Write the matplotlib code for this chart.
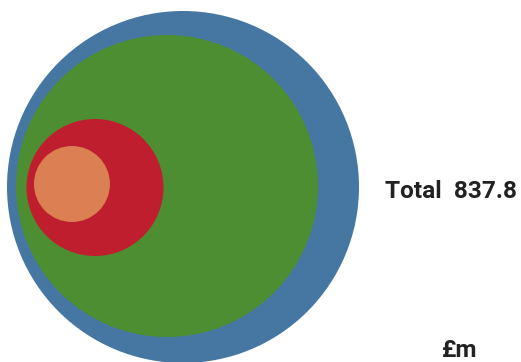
import numpy as np
import matplotlib
matplotlib.use("Agg")
import matplotlib.pyplot as plt
from matplotlib.patches import Circle

# data (£m), biggest first
labels = ["Total", "Part A", "Part B", "Part C"]
values = [837.8, 616.7, 126.9, 39.0]
colors = ["#4577a2", "#4e8e32", "#be1e2d", "#db8052"]

total_label = "Total  837.8"
unit_label = "£m"

# layout, in pixels
W, H = 521, 362
r_max = 176.0
lefts = [7, 16, 26.5, 34]
cys = [187, 186, 187.5, 184]

plt.rcParams["font.family"] = ["Roboto", "DejaVu Sans"]

fig = plt.figure(figsize=(W / 100, H / 100), dpi=100)
ax = fig.add_axes([0, 0, 1, 1])
ax.set_xlim(0, W)
ax.set_ylim(H, 0)
ax.set_aspect("equal")
ax.axis("off")

for v, c, left, cy in zip(values, colors, lefts, cys):
    r = r_max * np.sqrt(v / values[0])
    ax.add_patch(Circle((left + r, cy), r, facecolor=c, edgecolor="none"))

ax.text(385, 198, total_label, fontsize=17.6, fontweight="bold",
        color="#222222", ha="left", va="baseline")
ax.text(442, 357, unit_label, fontsize=17.6, fontweight="bold",
        color="#222222", ha="left", va="baseline")

fig.savefig("out.png", dpi=100)
